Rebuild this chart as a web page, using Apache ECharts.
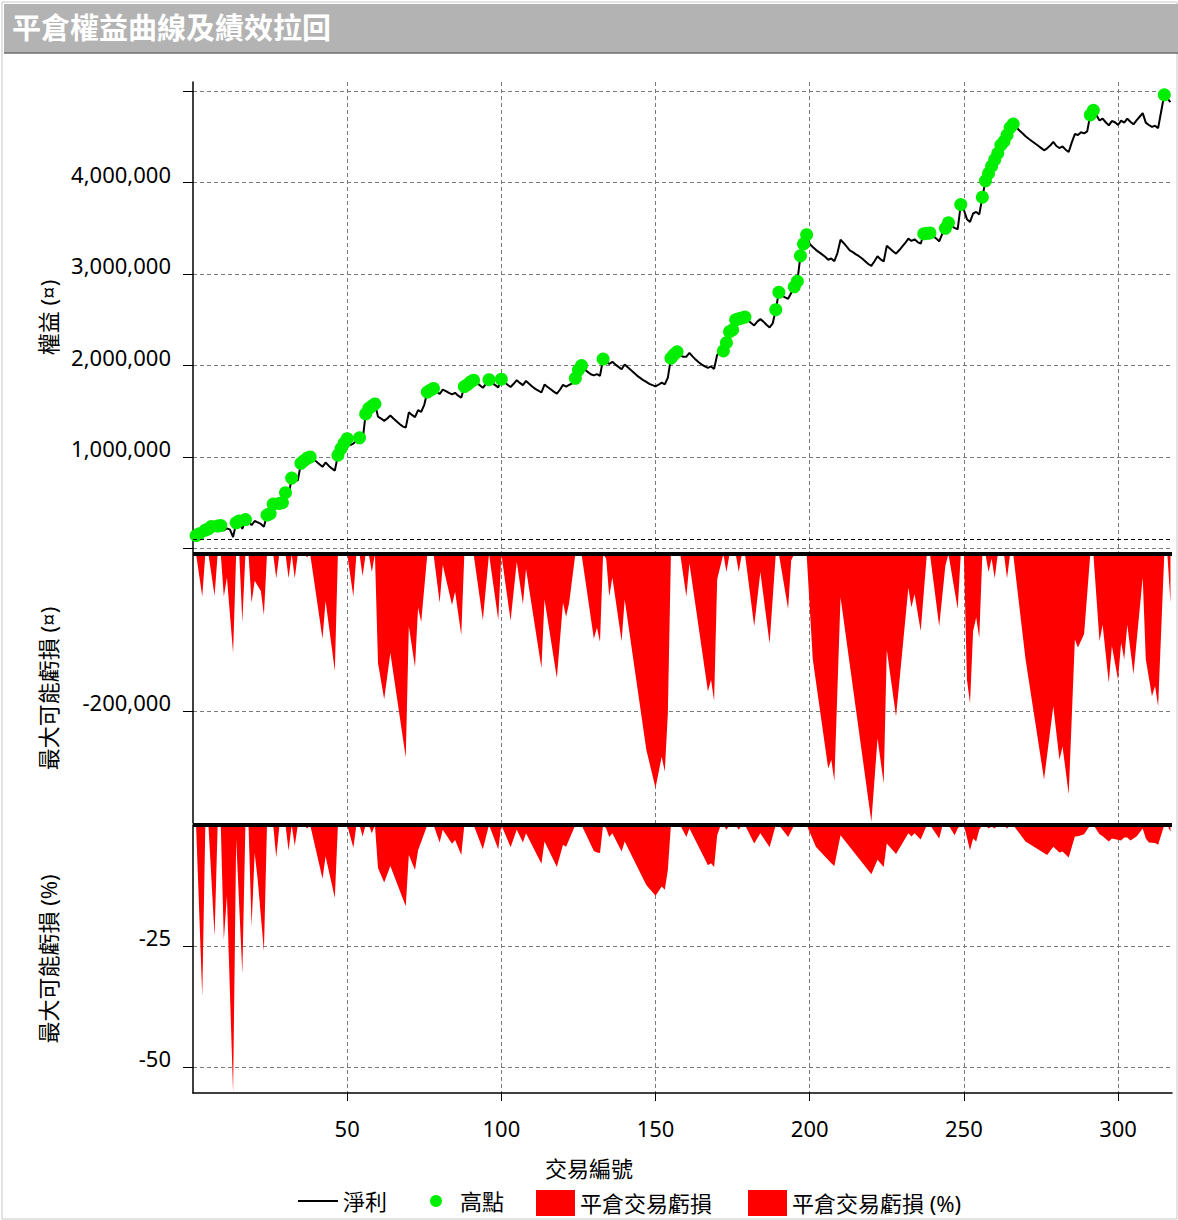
<!DOCTYPE html>
<html><head><meta charset="utf-8">
<script src="https://cdn.jsdelivr.net/npm/echarts@6/dist/echarts.min.js"></script>
<style>html,body{margin:0;padding:0;background:#fff}#c{width:1178px;height:1220px}</style>
</head><body><div id="c"></div><script>
// ---- data ----
const chartTitle = '平倉權益曲線及績效拉回';
const xName = '交易編號';
const seriesNames = ['淨利', '高點', '平倉交易虧損', '平倉交易虧損 (%)'];
const yNames = ['權益 (¤)', '最大可能虧損 (¤)', '最大可能虧損 (%)'];
const xTickValues = [50, 100, 150, 200, 250, 300];
const equityTicks = [0, 1000000, 2000000, 3000000, 4000000, 5000000];
const equityLabels = [1000000, 2000000, 3000000, 4000000];
const ddAmtTicks = [-200000];
const ddAmtLabels = [-200000];
const ddPctTicks = [-50, -25];
const ddPctLabels = [-50, -25];
const initialCapital = 100000;

// equity after trade 1..317
const equity = [
140000,160000,105000,200000,215000,240000,188000,245000,250000,196000,
220000,205000,124000,280000,300000,213000,315000,300000,253000,300000,
285000,268000,237000,365000,380000,485000,454000,492000,500000,610000,
579000,770000,739000,745000,930000,960000,986000,1000000,975000,950000,
920000,892000,940000,905000,875000,851000,1020000,1090000,1150000,1200000,
1130000,1146000,1180000,1210000,1182000,1470000,1530000,1557000,1580000,1441000,
1420000,1395000,1420000,1454000,1420000,1390000,1360000,1335000,1321000,1488000,
1460000,1436000,1512000,1493000,1570000,1710000,1730000,1750000,1715000,1688000,
1736000,1720000,1700000,1685000,1702000,1670000,1647000,1770000,1790000,1820000,
1840000,1810000,1785000,1756000,1800000,1845000,1810000,1785000,1761000,1850000,
1820000,1790000,1765000,1800000,1840000,1810000,1786000,1831000,1800000,1770000,
1745000,1725000,1705000,1792000,1765000,1740000,1715000,1692000,1735000,1788000,
1770000,1788000,1805000,1860000,1950000,2000000,1960000,1930000,1905000,1892000,
1906000,1888000,2070000,2040000,2016000,2040000,2010000,1985000,1959000,2012000,
1980000,1950000,1920000,1890000,1865000,1840000,1821000,1800000,1785000,1772000,
1790000,1812000,1793000,1867000,2080000,2120000,2150000,2110000,2095000,2096000,
2138000,2100000,2065000,2035000,2010000,1990000,1975000,1990000,1963000,2118000,
2140000,2160000,2250000,2370000,2390000,2500000,2510000,2520000,2530000,2495000,
2465000,2438000,2480000,2507000,2480000,2445000,2416000,2460000,2610000,2800000,
2765000,2745000,2730000,2792000,2860000,2920000,3200000,3330000,3430000,3330000,
3296000,3265000,3240000,3215000,3190000,3157000,3170000,3141000,3230000,3375000,
3340000,3300000,3260000,3240000,3215000,3195000,3170000,3140000,3110000,3089000,
3140000,3195000,3160000,3138000,3308000,3280000,3250000,3223000,3260000,3300000,
3340000,3387000,3362000,3380000,3350000,3332000,3440000,3445000,3450000,3420000,
3390000,3358000,3440000,3500000,3560000,3525000,3505000,3490000,3760000,3700000,
3600000,3570000,3662000,3679000,3653000,3840000,4020000,4100000,4180000,4250000,
4320000,4410000,4450000,4520000,4600000,4640000,4605000,4570000,4540000,4506000,
4480000,4455000,4430000,4405000,4380000,4353000,4375000,4405000,4446000,4400000,
4378000,4395000,4360000,4334000,4440000,4531000,4521000,4550000,4538000,4560000,
4740000,4790000,4735000,4679000,4700000,4660000,4626000,4673000,4660000,4630000,
4677000,4656000,4700000,4665000,4637000,4680000,4720000,4760000,4656000,4630000,
4609000,4622000,4596000,4780000,4960000,4920000,4880000
];

// trades that made a new equity high (green dots)
const highTrades = [1,2,4,5,6,8,9,14,15,17,24,25,26,28,29,30,32,35,36,37,38,47,48,49,50,54,56,57,58,59,
76,77,78,88,89,90,91,96,100,124,125,126,133,155,156,157,172,173,174,175,176,177,178,179,189,190,
195,196,197,198,199,237,238,239,244,245,249,256,257,258,259,260,261,262,263,264,265,266,291,292,315];

// max potential loss (currency): [trade, value]
const ddAmount = [
[1,0],[3,-54000],[4,0],[5,0],[7,-53000],[8,0],[9,0],[10,-54000],[11,-30000],[13,-126000],[14,0],[15,0],
[16,-87000],[17,0],[18,0],[19,-62000],[20,-34000],[22,-47000],[23,-78000],[24,0],[26,0],[27,-31000],[28,0],
[30,0],[31,-31000],[32,0],[33,-31000],[34,0],[36,0],[37,-4000],[38,0],[42,-108000],[43,-60000],[46,-149000],
[47,0],[50,0],[52,-54000],[53,0],[54,0],[55,-28000],[56,0],[57,0],[58,-23000],[59,0],[60,-139000],[62,-185000],
[64,-126000],[69,-259000],[70,-92000],[72,-144000],[73,-68000],[74,-87000],[76,0],[78,0],[80,-62000],[81,-14000],
[84,-65000],[85,-48000],[87,-103000],[88,0],[91,0],[94,-84000],[96,0],[99,-84000],[100,0],[103,-85000],
[105,-10000],[107,-64000],[108,-19000],[113,-145000],[114,-58000],[118,-158000],[120,-62000],[121,-80000],
[122,-62000],[124,0],[126,0],[130,-108000],[131,-94000],[132,-112000],[133,0],[134,-6000],[135,-54000],
[136,-30000],[139,-111000],[140,-58000],[147,-249000],[150,-298000],[152,-258000],[153,-277000],[154,-203000],
[155,0],[158,0],[160,-54000],[161,-12000],[167,-175000],[168,-160000],[169,-187000],[170,-32000],[172,0],
[173,-23000],[174,0],[176,0],[177,-23000],[178,0],[179,0],[182,-92000],[184,-23000],[187,-114000],[189,0],
[190,0],[193,-70000],[194,-8000],[195,0],[199,0],[201,-134000],[206,-273000],[207,-262000],[208,-289000],
[210,-55000],[220,-341000],[222,-235000],[224,-292000],[225,-122000],[228,-207000],[232,-43000],[233,-68000],
[234,-51000],[236,-98000],[238,0],[239,0],[242,-92000],[244,-15000],[245,0],[248,-70000],[249,0],[250,0],
[251,-160000],[252,-190000],[253,-98000],[254,-81000],[255,-107000],[256,0],[257,0],[258,-23000],[259,-6000],
[260,-31000],[261,0],[263,0],[264,-31000],[265,0],[266,0],[270,-134000],[276,-287000],[279,-194000],
[281,-262000],[282,-245000],[284,-306000],[286,-109000],[287,-119000],[289,-102000],[291,0],[292,0],
[294,-111000],[295,-90000],[297,-164000],[298,-117000],[300,-160000],[301,-113000],[302,-134000],[303,-90000],
[305,-153000],[308,-30000],[309,-134000],[311,-181000],[312,-168000],[313,-194000],[315,0],[316,0],[317,-62000]
];

// max potential loss (%): [trade, value]
const ddPercent = [
[1,0],[3,-35.4],[4,0],[5,0],[7,-23],[8,0],[9,0],[10,-23.7],[11,-14.6],[13,-55.3],[14,-3],[16,-30.7],[17,0],
[18,0],[19,-21],[20,-5.8],[21,-11.4],[23,-26.1],[24,0],[26,0],[27,-6.7],[28,-0.3],[30,0],[31,-5.3],[32,0],
[33,-4.3],[34,0],[36,0],[37,-0.7],[38,0],[42,-11.1],[43,-6.5],[46,-15.1],[47,0],[50,0],[52,-4.7],[53,0],[54,0],
[55,-2.4],[56,0],[57,0],[58,-1.7],[59,0],[60,-8.9],[62,-11.9],[64,-8.5],[69,-16.8],[70,-6.2],[72,-9.3],[73,-5.2],
[76,0],[78,0],[80,-3.6],[81,-1],[84,-3.9],[85,-3.1],[87,-6.2],[88,0],[91,0],[94,-5],[96,0],[99,-5],[100,0],
[103,-4.6],[105,-1],[107,-3.6],[108,-1.7],[113,-8],[114,-3.4],[118,-8.7],[120,-4.1],[121,-4.5],[124,0],[126,0],
[130,-5.4],[131,-5.7],[132,-5.8],[133,0],[134,-0.7],[135,-2.5],[136,-1.7],[139,-5.5],[140,-3.4],[147,-12.4],
[150,-14.6],[152,-12.7],[153,-13.4],[154,-9.3],[155,0],[158,0],[160,-2.5],[161,-0.7],[167,-8.3],[168,-7.9],
[169,-8.7],[170,-2.1],[171,-0.3],[172,0],[173,-1],[174,0],[176,0],[177,-1],[178,0],[179,0],[182,-3.8],[184,-1.7],
[187,-4.6],[189,0],[190,0],[193,-2.5],[195,0],[199,0],[202,-4.5],[207,-7.9],[208,-8.5],[210,-2.1],[220,-10.2],
[222,-7.2],[224,-8.7],[225,-3.8],[228,-6],[232,-1.7],[233,-2.4],[234,-1.7],[236,-3],[238,0],[239,0],[242,-2.8],
[243,-0.3],[244,0],[245,0],[247,-2.1],[248,-0.7],[249,0],[250,0],[252,-5.2],[253,-2.8],[254,-3.4],[255,-1],
[256,0],[257,0],[258,-0.7],[259,-0.3],[260,-0.7],[261,0],[263,0],[264,-0.7],[265,0],[266,0],[270,-3.4],
[277,-6.2],[279,-4.5],[281,-5.7],[282,-5.5],[284,-6.7],[286,-2.4],[287,-2.3],[289,-1.9],[291,0],[292,0],
[294,-1.9],[295,-2.3],[297,-3.4],[298,-2.8],[301,-3.2],[302,-2.6],[303,-2.6],[304,-3.2],[306,-2.4],[308,-0.7],
[309,-2.8],[310,-3.6],[312,-3.7],[313,-4.1],[315,0],[316,0],[317,-1.4]
];

// ---- build ----
const FONT = "'Noto Sans', 'Noto Sans CJK TC', sans-serif";
const equityData = equity.map((v, i) => [i + 1, v]);
const highData = highTrades.map(t => [t, equity[t - 1]]);
const fmt = v => Number(v).toLocaleString('en-US');

const GRID_LEFT = 193, GRID_RIGHT = 6;
const XMAX = 317.5;
const GREEN = '#00ee00', RED = '#ff0000';
const splitLine = { show: true, lineStyle: { color: '#7a7a7a', type: [4, 3], width: 1 } };
const legendText = { fontSize: 22, color: '#000', fontFamily: FONT };

function xAx(gridIndex, showLabels) {
  return {
    type: 'value', gridIndex, min: 0, max: XMAX,
    axisLine: { show: showLabels, onZero: false, lineStyle: { color: '#000', width: 1.5 } },
    axisTick: { show: showLabels, length: 8, lineStyle: { color: '#000' }, customValues: xTickValues },
    axisLabel: { show: showLabels, fontSize: 22, color: '#000', fontFamily: FONT, margin: 24, customValues: xTickValues },
    splitLine
  };
}
function yAx(gridIndex, min, max, ticks, labels, name) {
  return {
    type: 'value', gridIndex, min, max, name,
    nameLocation: 'middle', nameGap: 134, nameRotate: 90,
    nameTextStyle: { fontSize: 22, color: '#000', fontFamily: FONT },
    axisLine: { show: true, onZero: false, lineStyle: { color: '#000', width: 1.5 } },
    axisTick: { show: true, length: 10, lineStyle: { color: '#000' }, customValues: ticks },
    axisLabel: { fontSize: 22, color: '#000', fontFamily: FONT, margin: 22, customValues: labels,
      formatter: fmt, verticalAlign: 'bottom', lineHeight: 18 },
    splitLine
  };
}

const chart = echarts.init(document.getElementById('c'), null, { renderer: 'svg' });
chart.setOption({
  animation: false,
  backgroundColor: '#fff',
  textStyle: { fontFamily: FONT },
  graphic: [
    { type: 'rect', shape: { x: 2, y: 2, width: 1175, height: 1217 }, style: { fill: 'none', stroke: '#c8c8c8', lineWidth: 1 }, z: 0 },
    { type: 'rect', shape: { x: 4, y: 4, width: 1174, height: 49 }, style: { fill: '#b3b3b3' }, z: 1 },
    { type: 'line', shape: { x1: 4, y1: 53, x2: 1178, y2: 53 }, style: { stroke: '#6e6e6e', lineWidth: 1.5 }, z: 2 },
    { type: 'text', left: 12, top: 13, style: { text: chartTitle, fill: '#fff', fontSize: 29, fontWeight: 'bold', fontFamily: FONT }, z: 3 },
    { type: 'text', x: 589, y: 1168, style: { text: xName, fill: '#000', fontSize: 22, fontFamily: FONT, align: 'center', verticalAlign: 'middle' }, z: 3 }
  ],
  grid: [
    { left: GRID_LEFT, right: GRID_RIGHT, top: 82, height: 471 },
    { left: GRID_LEFT, right: GRID_RIGHT, top: 554, height: 269 },
    { left: GRID_LEFT, right: GRID_RIGHT, top: 825, height: 268 }
  ],
  xAxis: [xAx(0, false), xAx(1, false), xAx(2, true)],
  yAxis: [
    yAx(0, -50000, 5100000, equityTicks, equityLabels, yNames[0]),
    yAx(1, -342500, 0, ddAmtTicks, ddAmtLabels, yNames[1]),
    yAx(2, -55.4, 0, ddPctTicks, ddPctLabels, yNames[2])
  ],
  legend: [
    { data: [{ name: seriesNames[0], icon: 'rect' }], left: 298, top: 1190, padding: 0, itemWidth: 40, itemHeight: 2,
      itemStyle: { color: '#000' }, textStyle: legendText },
    { data: [{ name: seriesNames[1], icon: 'circle' }], left: 430, top: 1190, padding: 0, itemWidth: 12, itemHeight: 12,
      textStyle: Object.assign({}, legendText, { padding: [0, 0, 0, 13] }) },
    { data: [seriesNames[2], seriesNames[3]], left: 536, top: 1190, padding: 0, itemWidth: 39, itemHeight: 26, itemGap: 36, icon: 'rect',
      textStyle: legendText }
  ],
  series: [
    { name: seriesNames[0], type: 'line', xAxisIndex: 0, yAxisIndex: 0, data: equityData, symbol: 'none',
      color: '#000', lineStyle: { color: '#000', width: 2 }, z: 3,
      markLine: { silent: true, symbol: 'none', label: { show: false },
        lineStyle: { color: '#000', type: [4, 3], width: 1 }, data: [{ yAxis: initialCapital }] } },
    { name: seriesNames[1], type: 'scatter', xAxisIndex: 0, yAxisIndex: 0, data: highData, symbolSize: 13,
      color: GREEN, itemStyle: { color: GREEN, opacity: 1 }, z: 4 },
    { name: seriesNames[2], type: 'line', xAxisIndex: 1, yAxisIndex: 1, data: ddAmount, symbol: 'none',
      color: RED, lineStyle: { width: 0 }, areaStyle: { color: RED, opacity: 1 },
      markLine: { silent: true, symbol: 'none', label: { show: false },
        lineStyle: { color: '#000', type: 'solid', width: 4 }, data: [{ yAxis: 0 }] } },
    { name: seriesNames[3], type: 'line', xAxisIndex: 2, yAxisIndex: 2, data: ddPercent, symbol: 'none',
      color: RED, lineStyle: { width: 0 }, areaStyle: { color: RED, opacity: 1 },
      markLine: { silent: true, symbol: 'none', label: { show: false },
        lineStyle: { color: '#000', type: 'solid', width: 4 }, data: [{ yAxis: 0 }] } }
  ]
});
</script></body></html>
